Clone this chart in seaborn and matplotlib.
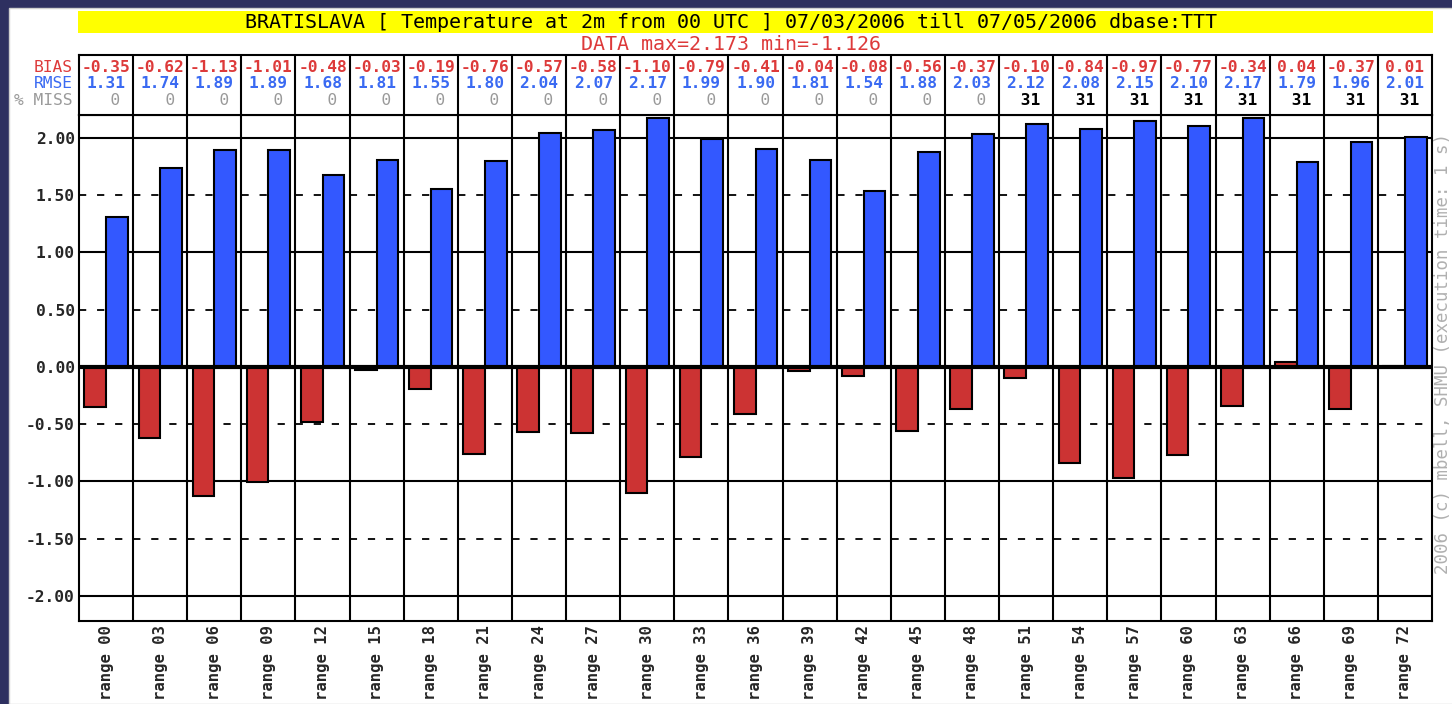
import numpy as np
import pandas as pd
import matplotlib
matplotlib.use("Agg")
import matplotlib.pyplot as plt
import seaborn as sns

# forecast ranges (hours) and scores
hours = [0, 3, 6, 9, 12, 15, 18, 21, 24, 27, 30, 33, 36, 39, 42, 45, 48,
         51, 54, 57, 60, 63, 66, 69, 72]
bias = [-0.35, -0.62, -1.13, -1.01, -0.48, -0.03, -0.19, -0.76, -0.57, -0.58,
        -1.10, -0.79, -0.41, -0.04, -0.08, -0.56, -0.37, -0.10, -0.84, -0.97,
        -0.77, -0.34, 0.04, -0.37, 0.01]
rmse = [1.31, 1.74, 1.89, 1.89, 1.68, 1.81, 1.55, 1.80, 2.04, 2.07, 2.17,
        1.99, 1.90, 1.81, 1.54, 1.88, 2.03, 2.12, 2.08, 2.15, 2.10, 2.17,
        1.79, 1.96, 2.01]
miss = [0] * 17 + [31] * 8
labels = [f"range {h:02d}" for h in hours]
yticks = [-2.0, -1.5, -1.0, -0.5, 0.0, 0.5, 1.0, 1.5, 2.0]

title = "BRATISLAVA [ Temperature at 2m from 00 UTC ] 07/03/2006 till 07/05/2006 dbase:TTT"
subtitle = "DATA max=2.173 min=-1.126"
credit = "2006 (c) mbell, SHMU (execution time: 1 s)"

RED = "#cc3333"
BLUE = "#3358ff"
RED_TXT = "#dd3a3a"
BLUE_TXT = "#3a6af2"
GRAY_TXT = "#9a9a9a"
NAVY = "#2e3060"

sns.set_style("white")
plt.rcParams["font.family"] = ["DejaVu Sans Mono", "DejaVu Sans"]

W, H = 1452, 704
fig = plt.figure(figsize=(W / 100, H / 100), dpi=100, facecolor=NAVY)


def box(x0, y0, x1, y1):
    # pixel box (top-left origin) -> figure fraction rect
    return [x0 / W, 1 - y1 / H, (x1 - x0) / W, (y1 - y0) / H]


def fx(x):
    return x / W


def fy(y):
    return 1 - y / H


# white page + yellow title bar, kept behind the axes
fig.patches.append(plt.Rectangle((fx(9), 0), 1, fy(8), transform=fig.transFigure,
                                 facecolor="white", edgecolor="#cfcfcf", lw=1, zorder=-10))
fig.patches.append(plt.Rectangle((fx(78), fy(33)), fx(1433) - fx(78), fy(11) - fy(33),
                                 transform=fig.transFigure, facecolor="#ffff00",
                                 edgecolor="none", zorder=-5))
fig.text(fx(731), fy(22), title, ha="center", va="center", fontsize=14.4, color="black")
fig.text(fx(731), fy(45), subtitle, ha="center", va="center", fontsize=14.4, color=RED_TXT)

# main bar chart
ax = fig.add_axes(box(79, 115, 1432, 621))
df = pd.DataFrame({
    "range": labels * 2,
    "metric": ["BIAS"] * len(labels) + ["RMSE"] * len(labels),
    "value": bias + rmse,
})
sns.barplot(data=df, x="range", y="value", hue="metric", hue_order=["BIAS", "RMSE"],
            palette={"BIAS": RED, "RMSE": BLUE}, saturation=1, width=0.8,
            edgecolor="black", linewidth=1.5, errorbar=None, legend=False,
            ax=ax, zorder=3)

n = len(labels)
ax.set_xlim(-0.5, n - 0.5)
ax.set_ylim(-2.22, 2.2)
ax.set_xlabel("")
ax.set_ylabel("")

for v in yticks:
    if v == 0:
        ax.axhline(v, color="black", lw=3, zorder=5)
    elif float(v).is_integer():
        ax.axhline(v, color="black", lw=1.5, zorder=1)
    else:
        ax.axhline(v, color="black", lw=1.3, ls=(0, (4, 6)), zorder=1)
for k in range(n - 1):
    ax.axvline(k + 0.5, color="black", lw=1.5, zorder=2)

ax.set_yticks(yticks)
ax.set_yticklabels([f"{v:.2f}" for v in yticks], fontsize=11.7, fontweight="bold")
ax.set_xticks(range(n))
ax.set_xticklabels(labels, rotation=90, fontsize=11.2, fontweight="bold", va="top")
ax.tick_params(axis="both", length=0, pad=3)
for s in ax.spines.values():
    s.set_color("black")
    s.set_linewidth(1.5)

# score table above the bars
tab = fig.add_axes(box(79, 55, 1432, 115))
tab.set_xlim(-0.5, n - 0.5)
tab.set_ylim(0, 1)
tab.set_xticks([])
tab.set_yticks([])
tab.set_facecolor("white")
for s in tab.spines.values():
    s.set_color("black")
    s.set_linewidth(1.5)
for k in range(n - 1):
    tab.axvline(k + 0.5, color="black", lw=1.5)

row_y = {"BIAS": 0.79, "RMSE": 0.52, "MISS": 0.24}
for i in range(n):
    tab.text(i, row_y["BIAS"], f"{bias[i]:.2f}", ha="center", va="center",
             fontsize=11.7, fontweight="bold", color=RED_TXT)
    tab.text(i, row_y["RMSE"], f"{rmse[i]:.2f}", ha="center", va="center",
             fontsize=11.7, fontweight="bold", color=BLUE_TXT)
    tab.text(i, row_y["MISS"], f"{miss[i]:3d}", ha="center", va="center",
             fontsize=11.7, fontweight="bold" if miss[i] else "normal",
             color="black" if miss[i] else GRAY_TXT)

fig.text(fx(73), fy(67.5), "BIAS", ha="right", va="center", fontsize=11.7, color=RED_TXT)
fig.text(fx(73), fy(84), "RMSE", ha="right", va="center", fontsize=11.7, color=BLUE_TXT)
fig.text(fx(73), fy(100.5), "% MISS", ha="right", va="center", fontsize=11.7, color=GRAY_TXT)

# credit sits in the narrow strip right of the plot
fig.text(fx(1443), fy(354), credit, ha="center", va="center", rotation=90,
         fontsize=12.5, color="#b0b0b0")

fig.savefig("out.png", dpi=100, facecolor=NAVY)
